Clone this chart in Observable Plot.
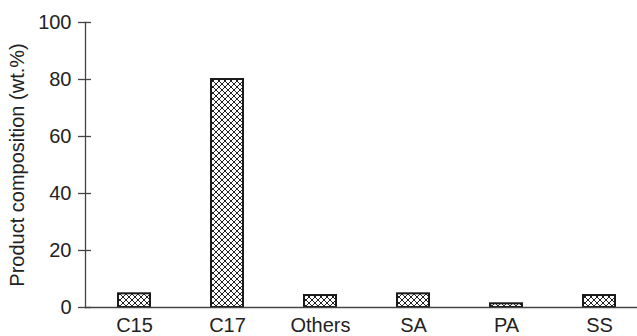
<!DOCTYPE html>
<html>
<head>
<meta charset="utf-8">
<script src="https://cdn.jsdelivr.net/npm/d3@7"></script>
<script src="https://cdn.jsdelivr.net/npm/@observablehq/plot@0.6"></script>
<style>
  html, body { margin: 0; padding: 0; background: #fff; }
  #chart svg { display: block; }
</style>
</head>
<body>
<div id="chart"></div>
<script>
const categories = ["C15", "C17", "Others", "SA", "PA", "SS"];
const values = [4.8, 80, 4.2, 4.8, 1.3, 4.2];
const yTicks = [0, 20, 40, 60, 80, 100];

const data = categories.map((c, i) => ({category: c, value: values[i]}));

const axisColor = "#444";

const svg = Plot.plot({
  width: 637,
  height: 336,
  marginLeft: 85,
  marginRight: 0,
  marginTop: 22,
  marginBottom: 29,
  style: {fontFamily: "'Liberation Sans', Arial, Helvetica, sans-serif", fontSize: "20px", color: "#222", background: "#fff"},
  x: {domain: categories, paddingInner: 0.66, paddingOuter: 0.27, align: 0.6, label: null},
  y: {domain: [0, 100], label: null},
  marks: [
    Plot.barY(data, {x: "category", y: "value", fill: "url(#xhatch)", stroke: "#1a1a1a", strokeWidth: 2}),
    Plot.ruleY([0], {stroke: axisColor, strokeWidth: 1.3}),
    Plot.frame({anchor: "left", stroke: axisColor, strokeWidth: 1.3}),
    Plot.axisY({ticks: yTicks, tickSize: 7, tickPadding: 7, stroke: axisColor, strokeWidth: 1.3,
      label: "Product composition (wt.%)", labelAnchor: "center", labelArrow: "none", labelOffset: 76}),
    Plot.axisY({ticks: yTicks, tickSize: -6, text: null, label: null, stroke: axisColor, strokeWidth: 1.3}),
    Plot.axisX({tickSize: 0, tickPadding: 10, label: null})
  ]
});

const ns = "http://www.w3.org/2000/svg";
const defs = document.createElementNS(ns, "defs");
defs.innerHTML = `<pattern id="xhatch" patternUnits="userSpaceOnUse" width="6" height="6">
  <rect width="6" height="6" fill="#fff"/>
  <path d="M0,0 L6,6 M6,0 L0,6 M-1,5 L1,7 M5,-1 L7,1 M-1,1 L1,-1 M5,7 L7,5" stroke="#222" stroke-width="1"/>
</pattern>`;
svg.prepend(defs);
document.getElementById("chart").appendChild(svg);
</script>
</body>
</html>
